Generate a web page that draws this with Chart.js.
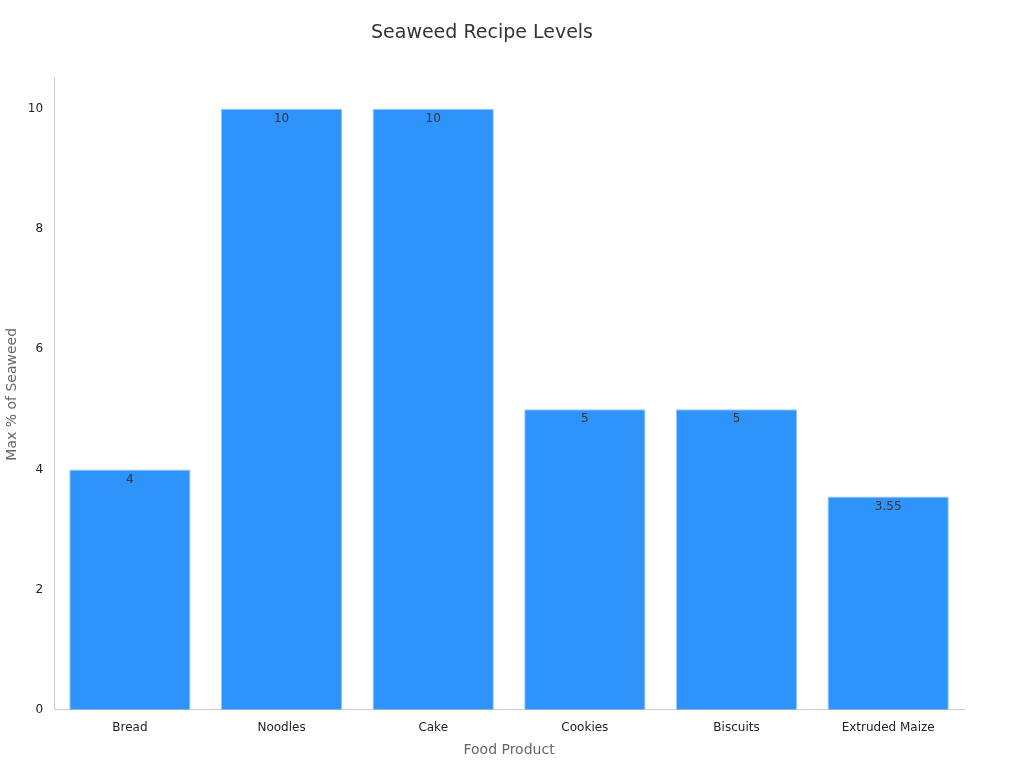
<!DOCTYPE html>
<html><head><meta charset="utf-8">
<script src="https://cdn.jsdelivr.net/npm/chart.js@4"></script>
<style>html,body{margin:0;padding:0;background:#fff}#w{width:1024px;height:768px}</style>
</head><body><div id="w"><canvas id="c"></canvas></div>
<script>
const categories = ["Bread","Noodles","Cake","Cookies","Biscuits","Extruded Maize"];
const values = [4,10,10,5,5,3.55];
const yTicks = [0,2,4,6,8,10];
const labelPlugin = {id:'lbl',afterDatasetsDraw(ch){
  const ctx=ch.ctx; const meta=ch.getDatasetMeta(0);
  ctx.save(); ctx.fillStyle='#333'; ctx.font='12px "DejaVu Sans"'; ctx.textAlign='center'; ctx.textBaseline='top';
  meta.data.forEach((b,i)=>ctx.fillText(String(values[i]),b.x,b.y+4));
  ctx.restore();}};
new Chart(document.getElementById('c'),{type:'bar',
 data:{labels:categories,datasets:[{data:values,backgroundColor:'#2e93fa',borderColor:'#9cc8f5',borderWidth:1,barPercentage:0.8,categoryPercentage:1}]},
 options:{responsive:true,maintainAspectRatio:false,animation:false,
  layout:{padding:{left:0,right:60,top:10,bottom:5}},
  plugins:{legend:{display:false},tooltip:{enabled:false},
   title:{display:true,text:'Seaweed Recipe Levels',color:'#333',font:{family:'DejaVu Sans',size:19,weight:'normal'},padding:{top:12,bottom:34}}},
  scales:{
   x:{grid:{display:false},border:{color:'#ccc'},ticks:{color:'#222',font:{family:'DejaVu Sans',size:12}},
      title:{display:true,text:'Food Product',color:'#666',font:{family:'DejaVu Sans',size:14}}},
   y:{min:0,max:10.5,grid:{display:false,drawTicks:true},border:{color:'#ccc'},
      afterBuildTicks(a){a.ticks=yTicks.map(v=>({value:v}));},
      ticks:{color:'#222',font:{family:'DejaVu Sans',size:12}},
      title:{display:true,text:'Max % of Seaweed',color:'#666',font:{family:'DejaVu Sans',size:14}}}}},
 plugins:[labelPlugin]});
</script></body></html>
